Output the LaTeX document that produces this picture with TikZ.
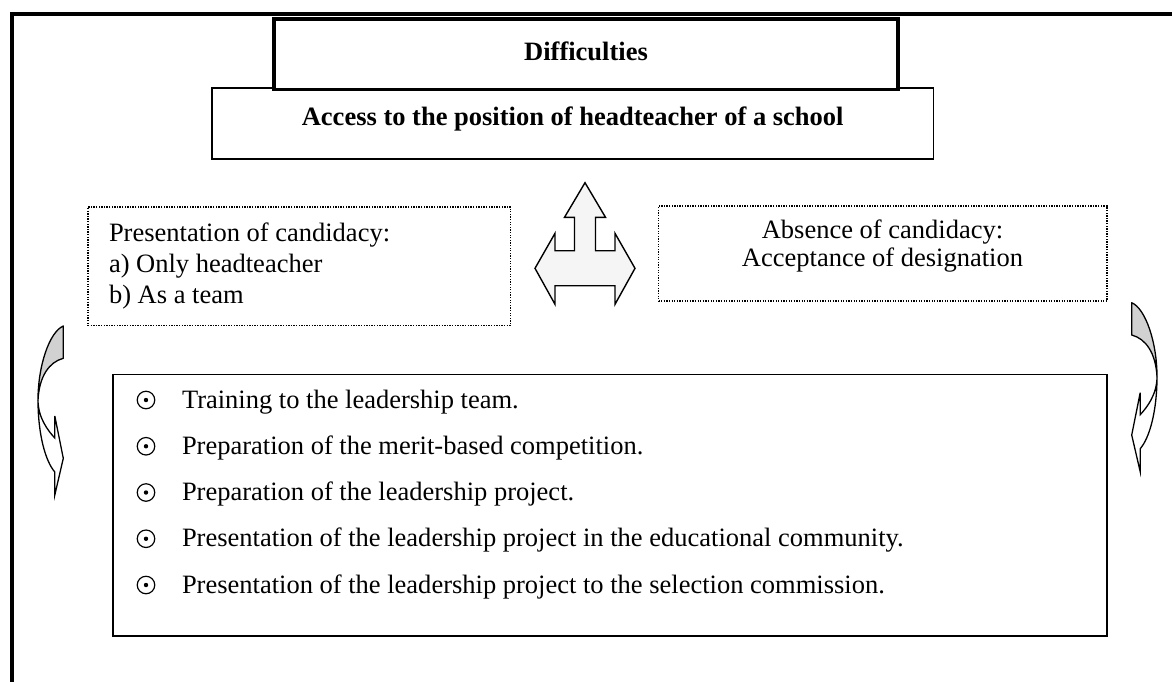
\documentclass[tikz,border=0pt]{standalone}
\usepackage{fontspec}
\setmainfont{Liberation Serif}
\begin{document}
\begin{tikzpicture}[x=1pt, y=-1pt,
  every node/.style={inner sep=0pt, outer sep=0pt},
  txt/.style={font=\fontsize{26.5pt}{31pt}\selectfont},
  boldtxt/.style={font=\fontsize{26.5pt}{31pt}\selectfont\bfseries},
  frameline/.style={draw, line width=3.5pt},
  titlebox/.style={draw, line width=3.8pt, fill=white},
  plainbox/.style={draw, line width=1.4pt, fill=white},
  dotbox/.style={draw, line width=1.3pt, dash pattern=on 1.3pt off 1.3pt},
  blockarrow/.style={draw, line width=1.4pt, fill=black!4, line join=miter},
  bandback/.style={draw, line width=1.3pt, fill=black!18, line join=round},
  bandfront/.style={draw, line width=1.3pt, fill=white, line join=miter},
  bulletring/.style={circle, draw, line width=1.2pt, minimum size=17.5pt},
  curved band/.pic={
    % shaded back face of the band
    \path[bandback] (0,0) .. controls (14,6) and (25.3,40) .. (25.3,74)
      .. controls (24,50) and (14,36) .. (0,32.3) -- cycle;
    % front face ending in the arrow head
    \path[bandfront] (25.3,74) .. controls (25.3,108) and (18,135) .. (8.5,146)
      -- (8.5,169) -- (0,132.3) -- (8.5,90) -- (8.5,112)
      .. controls (15,105) and (25.3,92) .. (25.3,74) -- cycle;
  }]
\useasboundingbox (0,0) rectangle (1172,681);
\clip (0,0) rectangle (1172,681);
\fill[white] (0,0) rectangle (1172,681);

% page frame, open towards the right and the bottom
\draw[frameline] (12,720) -- (12,14) -- (1220,14);

% title boxes
\node[plainbox, minimum width=721.3pt, minimum height=71pt] (access) at (572.7,123.5) {};
\node[titlebox, minimum width=624pt, minimum height=70.5pt] (diff) at (586,54.25) {};
\node[boldtxt, anchor=base] (difftxt) at (586,60) {Difficulties};
\node[boldtxt, anchor=base] (accesstxt) at (572.7,125) {Access to the position of headteacher of a school};

% the two ways of access (base anchor = baseline of the last line)
\node[dotbox, minimum width=422.5pt, minimum height=118.5pt] (cand) at (299.25,266.25) {};
\node[txt, anchor=base west, align=left] (candtxt) at (109,303)
  {Presentation of candidacy:\\a) Only headteacher\\b) As a team};
\node[dotbox, minimum width=448.5pt, minimum height=95pt] (nocand) at (882.75,253.5) {};
\node[txt, anchor=base, align=center, font=\fontsize{26.5pt}{28pt}\selectfont] (nocandtxt) at (882.5,266)
  {Absence of candidacy:\\Acceptance of designation};

% three-way block arrow between the boxes
\path[blockarrow] (585,182.7) -- (605.5,217.3) -- (595.5,217.3) -- (595.5,250.7)
  -- (615,250.7) -- (615,233.3) -- (635,268.3) -- (615,304.3) -- (615,285.7)
  -- (555,285.7) -- (555,304.3) -- (535,268.3) -- (555,233.3) -- (555,250.7)
  -- (574.5,250.7) -- (574.5,217.3) -- (564.5,217.3) -- cycle;

% curved arrows at both sides of the list
\pic[xscale=-1] at (63.3,326) {curved band};
\pic at (1131.7,302.7) {curved band};

% list of steps
\node[plainbox, minimum width=994pt, minimum height=261.5pt] (steps) at (610,505.25) {};
\node[bulletring] (b1) at (146,400) {};
\node[bulletring] (b2) at (146,446.25) {};
\node[bulletring] (b3) at (146,492.5) {};
\node[bulletring] (b4) at (146,538.75) {};
\node[bulletring] (b5) at (146,585) {};
\foreach \b in {b1,b2,b3,b4,b5}{\fill (\b.center) circle (2.2pt);}
\node[txt, anchor=base west] (s1) at (182,408) {Training to the leadership team.};
\node[txt, anchor=base west] (s2) at (182,454.25) {Preparation of the merit-based competition.};
\node[txt, anchor=base west] (s3) at (182,500.5) {Preparation of the leadership project.};
\node[txt, anchor=base west] (s4) at (182,546.75) {Presentation of the leadership project in the educational community.};
\node[txt, anchor=base west] (s5) at (182,593) {Presentation of the leadership project to the selection commission.};
\end{tikzpicture}
\end{document}
